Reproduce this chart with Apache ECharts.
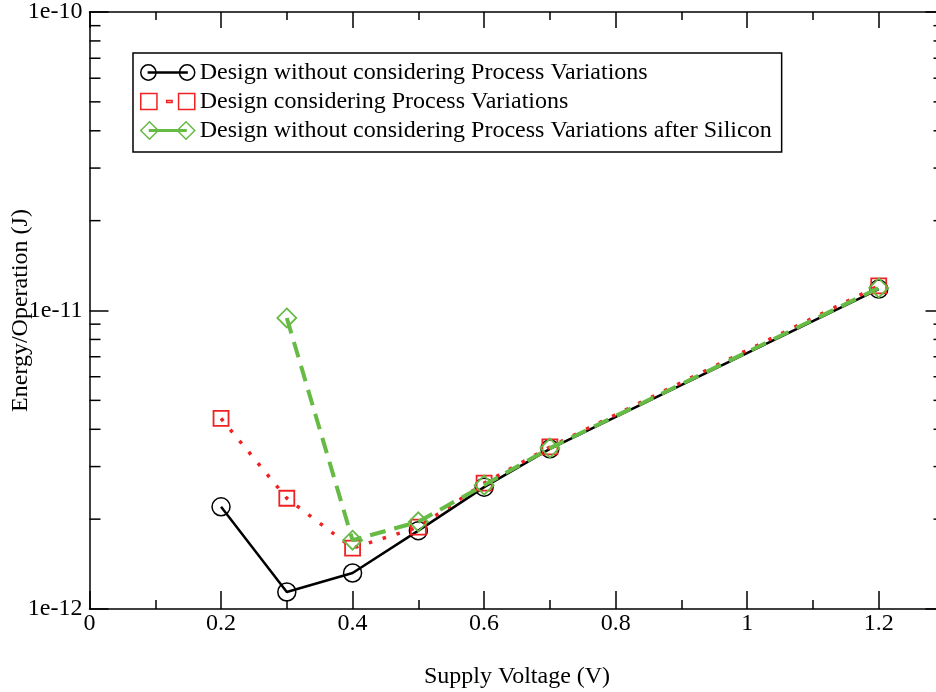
<!DOCTYPE html>
<html>
<head>
<meta charset="utf-8">
<script src="https://cdn.jsdelivr.net/npm/echarts@6/dist/echarts.min.js"></script>
<style>
html,body{margin:0;padding:0;background:#fff;}
#chart{width:936px;height:692px;}
</style>
</head>
<body>
<div id="chart"></div>
<script>
// ---- data ----
var voltages = [0.2, 0.3, 0.4, 0.5, 0.6, 0.7, 1.2];
var noPV = [2.2e-12, 1.14e-12, 1.32e-12, 1.83e-12, 2.56e-12, 3.44e-12, 1.18e-11];
var withPV = [4.35e-12, 2.35e-12, 1.60e-12, 1.88e-12, 2.64e-12, 3.49e-12, 1.21e-11];
var siliconV = [0.3, 0.4, 0.5, 0.6, 0.7, 1.2];
var silicon = [9.44e-12, 1.70e-12, 1.96e-12, 2.60e-12, 3.46e-12, 1.19e-11];
var seriesNames = [
  'Design without considering Process Variations',
  'Design considering Process Variations',
  'Design without considering Process Variations after Silicon'
];
var xTitle = 'Supply Voltage (V)';
var yTitle = 'Energy/Operation (J)';
var minorMultipliers = [2, 3, 4, 5, 6, 7, 8, 9];
var minorDecades = [1e-12, 1e-11];

function pairs(xs, ys) { return xs.map(function (x, i) { return [x, ys[i]]; }); }

var FONT = 'Liberation Serif';
var FS = 24;
var RED = '#ee2222';
var GREEN = '#66bb44';
var GL = 89.5, GT = 12, GW = 855, GH = 597;

var chart = echarts.init(document.getElementById('chart'), null, {renderer: 'canvas'});

var iconCircle = 'path://M0 9A7.5 7.5 0 1 1 15 9A7.5 7.5 0 1 1 0 9Z' +
  'M38 9A7.5 7.5 0 1 1 53 9A7.5 7.5 0 1 1 38 9Z' +
  'M7.5 8.5L45.5 8.5L45.5 9.5L7.5 9.5Z';
var iconRect = 'path://M2 1.5L17 1.5L17 16.5L2 16.5Z' +
  'M37 1.5L52 1.5L52 16.5L37 16.5Z' +
  'M26 8L31 8L31 10L26 10Z';
var iconDiamond = 'path://M8.5 0.5L17 9L8.5 17.5L0 9Z' +
  'M44 0.5L52.5 9L44 17.5L35.5 9Z' +
  'M8.5 8.2L44 8.2L44 9.8L8.5 9.8Z';

var axisLineStyle = {color: '#000', width: 1.5};

var option = {
  animation: false,
  backgroundColor: '#fff',
  grid: {left: GL, top: GT, width: GW, height: GH, containLabel: false, outerBoundsMode: 'none'},
  legend: {
    orient: 'vertical',
    left: 133, top: 53,
    borderColor: '#000', borderWidth: 1.5,
    padding: [5, 10, 7, 7],
    itemGap: 0,
    itemWidth: 54, itemHeight: 18,
    itemStyle: {borderWidth: 1.5},
    textStyle: {fontFamily: FONT, fontSize: FS, color: '#000', lineHeight: 29},
    data: [
      {name: seriesNames[0], icon: iconCircle,
       itemStyle: {color: 'rgba(0,0,0,0)', borderColor: '#000', borderWidth: 1.5}},
      {name: seriesNames[1], icon: iconRect,
       itemStyle: {color: 'rgba(0,0,0,0)', borderColor: RED, borderWidth: 1.5}},
      {name: seriesNames[2], icon: iconDiamond,
       itemStyle: {color: 'rgba(0,0,0,0)', borderColor: GREEN, borderWidth: 1.5}}
    ]
  },
  xAxis: [
    {
      type: 'value', position: 'bottom', min: 0, max: 1.3, interval: 0.2,
      name: xTitle, nameLocation: 'middle', nameGap: 56, nameMoveOverlap: false,
      nameTextStyle: {fontFamily: FONT, fontSize: FS, color: '#000'},
      axisLine: {show: true, onZero: false, lineStyle: axisLineStyle},
      axisTick: {show: true, inside: true, length: 18, lineStyle: axisLineStyle},
      axisLabel: {fontFamily: FONT, fontSize: FS, color: '#000', margin: 3, showMaxLabel: false},
      splitLine: {show: false}
    },
    {
      type: 'value', position: 'top', min: 0, max: 1.3, interval: 0.2,
      axisLine: {show: true, onZero: false, lineStyle: axisLineStyle},
      axisTick: {show: true, inside: true, length: 16, lineStyle: axisLineStyle},
      axisLabel: {show: false}, splitLine: {show: false}
    },
    {
      type: 'value', position: 'bottom', min: 0, max: 1.3, interval: 0.1,
      axisLine: {show: false, onZero: false},
      axisTick: {show: true, inside: true, length: 9, lineStyle: axisLineStyle},
      axisLabel: {show: false}, splitLine: {show: false}
    },
    {
      type: 'value', position: 'top', min: 0, max: 1.3, interval: 0.1,
      axisLine: {show: false, onZero: false},
      axisTick: {show: true, inside: true, length: 8, lineStyle: axisLineStyle},
      axisLabel: {show: false}, splitLine: {show: false}
    }
  ],
  yAxis: [
    {
      type: 'log', logBase: 10, position: 'left', min: 1e-12, max: 1e-10,
      name: yTitle, nameLocation: 'middle', nameGap: 57, nameMoveOverlap: false,
      nameTextStyle: {fontFamily: FONT, fontSize: FS, color: '#000'},
      axisLine: {show: true, onZero: false, lineStyle: axisLineStyle},
      axisTick: {show: true, inside: true, length: 19, lineStyle: axisLineStyle},
      axisLabel: {
        fontFamily: FONT, fontSize: FS, color: '#000', margin: 7,
        formatter: function (v) { return '1e' + Math.round(Math.log10(v)); }
      },
      splitLine: {show: false}
    },
    {
      type: 'log', logBase: 10, position: 'right', min: 1e-12, max: 1e-10,
      axisLine: {show: true, onZero: false, lineStyle: axisLineStyle},
      axisTick: {show: true, inside: true, length: 19, lineStyle: axisLineStyle},
      axisLabel: {show: false}, splitLine: {show: false}
    }
  ],
  series: [
    {
      name: seriesNames[0], type: 'line', xAxisIndex: 0, yAxisIndex: 0,
      data: pairs(voltages, noPV),
      symbol: 'circle', symbolSize: 18,
      itemStyle: {color: 'rgba(0,0,0,0)', borderColor: '#000', borderWidth: 1.5},
      lineStyle: {color: '#000', width: 2.5},
      emphasis: {disabled: true}, z: 2
    },
    {
      name: seriesNames[1], type: 'line', xAxisIndex: 0, yAxisIndex: 0,
      data: pairs(voltages, withPV),
      symbol: 'rect', symbolSize: 15,
      itemStyle: {color: 'rgba(0,0,0,0)', borderColor: RED, borderWidth: 1.8},
      lineStyle: {color: RED, width: 3.5, type: [3.5, 11]},
      emphasis: {disabled: true}, z: 3
    },
    {
      name: seriesNames[2], type: 'line', xAxisIndex: 0, yAxisIndex: 0,
      data: pairs(siliconV, silicon),
      symbol: 'diamond', symbolSize: 19,
      itemStyle: {color: 'rgba(0,0,0,0)', borderColor: GREEN, borderWidth: 1.8},
      lineStyle: {color: GREEN, width: 4, type: [16, 9]},
      emphasis: {disabled: true}, z: 4
    }
  ]
};

chart.setOption(option);

// minor log ticks on left and right axes, positioned through the axis scale
var leftX = chart.convertToPixel({xAxisIndex: 0}, 0);
var rightX = chart.convertToPixel({xAxisIndex: 0}, 1.3);
var tickEls = [];
minorDecades.forEach(function (d) {
  minorMultipliers.forEach(function (m) {
    var y = chart.convertToPixel({yAxisIndex: 0}, m * d);
    tickEls.push({type: 'line', shape: {x1: leftX, y1: y, x2: leftX + 11, y2: y},
      style: {stroke: '#000', lineWidth: 1.5}, silent: true});
    tickEls.push({type: 'line', shape: {x1: rightX, y1: y, x2: rightX - 11, y2: y},
      style: {stroke: '#000', lineWidth: 1.5}, silent: true});
  });
});
chart.setOption({graphic: {elements: tickEls}});
</script>
</body>
</html>
